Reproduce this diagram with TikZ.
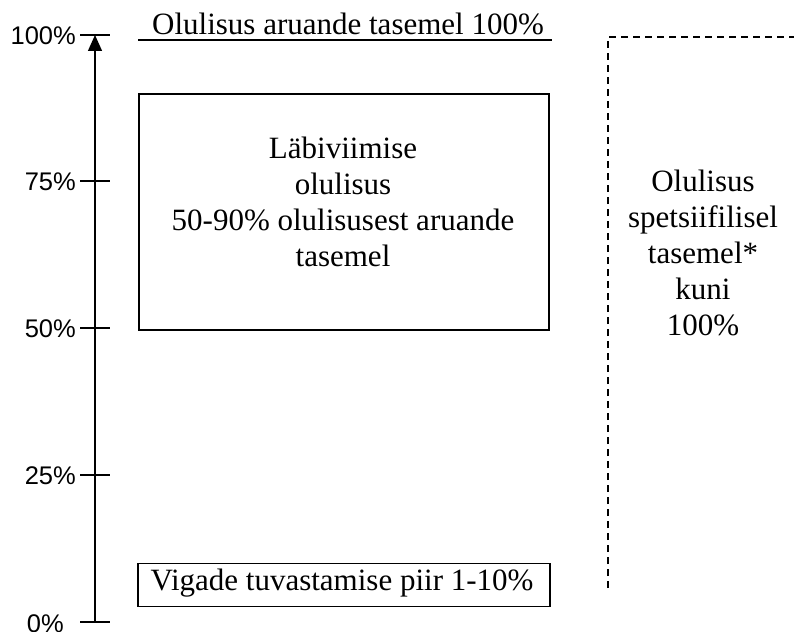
\documentclass[tikz,border=0pt]{standalone}
\usepackage{fontspec}
\setmainfont{Liberation Serif}
\newfontfamily\axisfont{Liberation Sans}
\usetikzlibrary{arrows.meta}
\begin{document}
\begin{tikzpicture}[x=1pt,y=-1pt,
  serif/.style={font=\fontsize{31}{35.8}\selectfont, inner sep=0pt, align=center},
  axislbl/.style={font=\axisfont\fontsize{25.5}{27}\selectfont, inner sep=0pt, anchor=east},
  line/.style={line width=1.3pt},
  tick/.style={line width=1.3pt},
  boxed/.style={draw, line width=1.2pt}]
\useasboundingbox (0,0) rectangle (794,631);
% axis
\coordinate (bot) at (95,622);
\coordinate (top) at (95,35);
\draw[line, -{Triangle[width=14pt,length=16pt]}] (bot) -- (top);
% ticks
\foreach \y/\nm in {35/t100, 181/t75, 328/t50, 475/t25, 622/t0} {
  \coordinate (\nm l) at (80,\y);
  \coordinate (\nm r) at (110,\y);
  \draw[tick] (\nm l) -- (\nm r);
}
\node[axislbl] (l100) at (76,36) {100\%};
\node[axislbl] (l75) at (76,182) {75\%};
\node[axislbl] (l50) at (76,329) {50\%};
\node[axislbl] (l25) at (76,476) {25\%};
\node[axislbl] (l0) at (64,624) {0\%};
% title
\node[serif, anchor=base] (title) at (348,35) {Olulisus aruande tasemel 100\%};
\coordinate (ul1) at (138,40);
\coordinate (ul2) at (552,40);
\draw[line width=1.2pt] (ul1) -- (ul2);
% big box
\node[boxed, minimum width=410pt, minimum height=236pt, inner sep=0pt] (bigbox) at (344,212) {};
\node[serif, anchor=base] (bigtext) at (343,266) {L\"abiviimise\\olulisus\\50-90\% olulisusest aruande\\tasemel};
% bottom box
\node[boxed, minimum width=412pt, minimum height=43pt, inner sep=0pt] (smallbox) at (344,585) {};
\node[serif, anchor=base] (smalltext) at (342,590) {Vigade tuvastamise piir 1-10\%};
% dashed
\coordinate (d1) at (608,588);
\coordinate (d2) at (608,37);
\coordinate (d3) at (794,37);
\draw[line width=1.2pt, dash pattern=on 7pt off 5pt] (d1) -- (d2) -- (d3);
\node[serif, anchor=base] (righttext) at (703,335) {Olulisus\\spetsiifilisel\\tasemel*\\kuni\\100\%};
\end{tikzpicture}
\end{document}
